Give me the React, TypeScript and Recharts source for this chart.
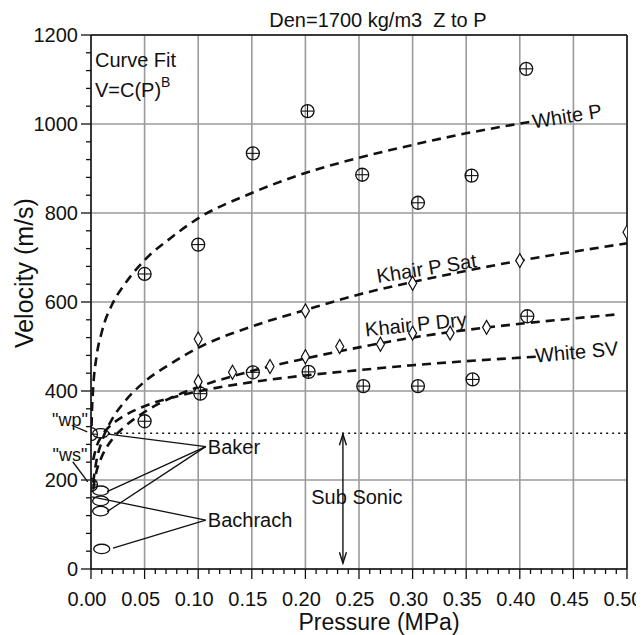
import React from 'react';
import {
  ComposedChart,
  Line,
  Scatter,
  XAxis,
  YAxis,
  CartesianGrid,
  ReferenceLine,
  ReferenceDot,
} from 'recharts';

// ---------- data ----------
// fitted curves V = C(P)^B
const whitePFit = [
  { p: 0.0005, v: 321 }, { p: 0.001, v: 362 }, { p: 0.002, v: 407 }, { p: 0.005, v: 475 },
  { p: 0.01, v: 532 }, { p: 0.02, v: 596 }, { p: 0.03, v: 635 }, { p: 0.05, v: 694 },
  { p: 0.075, v: 745 }, { p: 0.1, v: 788 }, { p: 0.15, v: 845 }, { p: 0.2, v: 890 },
  { p: 0.25, v: 924 }, { p: 0.3, v: 953 }, { p: 0.35, v: 979 }, { p: 0.415, v: 1007 },
];
const khairSatFit = [
  { p: 0.002, v: 194 }, { p: 0.005, v: 242 }, { p: 0.01, v: 286 }, { p: 0.02, v: 338 },
  { p: 0.03, v: 372 }, { p: 0.05, v: 421 }, { p: 0.075, v: 462 }, { p: 0.1, v: 497 },
  { p: 0.15, v: 545 }, { p: 0.2, v: 582 }, { p: 0.25, v: 617 }, { p: 0.3, v: 645 },
  { p: 0.35, v: 670 }, { p: 0.4, v: 693 }, { p: 0.45, v: 713 }, { p: 0.5, v: 732 },
];
const khairDryFit = [
  { p: 0.002, v: 180 }, { p: 0.005, v: 218 }, { p: 0.01, v: 252 }, { p: 0.02, v: 292 },
  { p: 0.03, v: 317 }, { p: 0.05, v: 353 }, { p: 0.075, v: 385 }, { p: 0.1, v: 409 },
  { p: 0.15, v: 445 }, { p: 0.2, v: 473 }, { p: 0.25, v: 498 }, { p: 0.3, v: 520 },
  { p: 0.35, v: 537 }, { p: 0.4, v: 551 }, { p: 0.45, v: 563 }, { p: 0.49, v: 572 },
];
const whiteSVFit = [
  { p: 0.002, v: 245 }, { p: 0.005, v: 274 }, { p: 0.01, v: 299 }, { p: 0.02, v: 326 },
  { p: 0.03, v: 343 }, { p: 0.05, v: 366 }, { p: 0.075, v: 385 }, { p: 0.1, v: 399 },
  { p: 0.15, v: 420 }, { p: 0.2, v: 435 }, { p: 0.25, v: 447 }, { p: 0.3, v: 458 },
  { p: 0.35, v: 467 }, { p: 0.415, v: 477 },
];

// measured points
const whitePPoints = [
  { p: 0.05, v: 663 }, { p: 0.1, v: 729 }, { p: 0.151, v: 934 }, { p: 0.202, v: 1029 },
  { p: 0.253, v: 886 }, { p: 0.305, v: 823 }, { p: 0.355, v: 884 }, { p: 0.406, v: 1124 },
];
const whiteSVPoints = [
  { p: 0.05, v: 332 }, { p: 0.102, v: 394 }, { p: 0.151, v: 442 }, { p: 0.203, v: 443 },
  { p: 0.254, v: 411 }, { p: 0.305, v: 411 }, { p: 0.356, v: 426 }, { p: 0.407, v: 568 },
];
const zeroPressurePoints = [{ p: 0, v: 303 }, { p: 0, v: 189 }];
const khairSatPoints = [
  { p: 0.1, v: 517 }, { p: 0.2, v: 580 }, { p: 0.3, v: 642 }, { p: 0.4, v: 693 }, { p: 0.5, v: 757 },
];
const khairDryPoints = [
  { p: 0.1, v: 421 }, { p: 0.132, v: 442 }, { p: 0.167, v: 455 }, { p: 0.2, v: 477 },
  { p: 0.232, v: 500 }, { p: 0.27, v: 505 }, { p: 0.3, v: 530 }, { p: 0.335, v: 530 },
  { p: 0.369, v: 543 },
];
const lowPressurePoints = [
  { p: 0.009, v: 305 }, { p: 0.009, v: 176 }, { p: 0.009, v: 153 }, { p: 0.009, v: 130 },
  { p: 0.01, v: 45 },
];
const subSonicLimit = 305;

// axis ticks
const xMajorTicks = [0, 0.05, 0.1, 0.15, 0.2, 0.25, 0.3, 0.35, 0.4, 0.45, 0.5];
const yMajorTicks = [0, 200, 400, 600, 800, 1000, 1200];
const xAllTicks = Array.from({ length: 51 }, (_, i) => i / 100);
const yAllTicks = Array.from({ length: 31 }, (_, i) => i * 40);

// annotations (data coordinates)
const curveLabels = [
  { text: 'White P', p: 0.444, v: 1018, angle: -9 },
  { text: 'Khair P Sat', p: 0.313, v: 676, angle: -9 },
  { text: 'Khair P Dry', p: 0.303, v: 550, angle: -6 },
  { text: 'White SV', p: 0.453, v: 488, angle: -5 },
];
const bakerAt = { p: 0.107, v: 275 };
const bachrachAt = { p: 0.107, v: 110 };
const bakerFrom = [
  { p: 0.016, v: 303 }, { p: 0.015, v: 174 }, { p: 0.015, v: 129 },
];
const bachrachFrom = [{ p: 0.001, v: 162 }, { p: 0.0205, v: 47 }];

const W = 636;
const H = 627;
const FONT = '"Liberation Sans", Arial, Helvetica, sans-serif';
const INK = '#111';

const XTick = (props: any) => {
  const { x, y, payload } = props;
  const v = payload.value as number;
  const major = Math.round(v * 100) % 5 === 0;
  return (
    <g>
      <line x1={x} x2={x} y1={y} y2={y + (major ? 10 : 5)} stroke={INK} strokeWidth={1.3} />
      {major && (
        <text x={x - 4} y={y + 37} textAnchor="middle" fontSize={20} fontFamily={FONT} fill={INK}>
          {v.toFixed(2)}
        </text>
      )}
    </g>
  );
};

const YTick = (props: any) => {
  const { x, y, payload } = props;
  const v = payload.value as number;
  const major = v % 200 === 0;
  return (
    <g>
      <line x1={x - (major ? 10 : 5)} x2={x} y1={y} y2={y} stroke={INK} strokeWidth={1.3} />
      {major && (
        <text x={x - 13} y={y + 7} textAnchor="end" fontSize={20} fontFamily={FONT} fill={INK}>
          {v}
        </text>
      )}
    </g>
  );
};

const CirclePlus = (props: any) => {
  const { cx, cy } = props;
  const r = 6.5;
  return (
    <g>
      <circle cx={cx} cy={cy} r={r} fill="none" stroke={INK} strokeWidth={1.3} />
      <line x1={cx - r} x2={cx + r} y1={cy} y2={cy} stroke={INK} strokeWidth={1.1} />
      <line x1={cx} x2={cx} y1={cy - r} y2={cy + r} stroke={INK} strokeWidth={1.1} />
    </g>
  );
};

const Diamond = (props: any) => {
  const { cx, cy } = props;
  return (
    <path
      d={`M${cx},${cy - 7} L${cx + 4},${cy} L${cx},${cy + 7} L${cx - 4},${cy} Z`}
      fill="#fff"
      stroke={INK}
      strokeWidth={1.2}
    />
  );
};

const Ellipse = (props: any) => {
  const { cx, cy } = props;
  return <ellipse cx={cx} cy={cy} rx={8} ry={4.7} fill="none" stroke={INK} strokeWidth={1.3} />;
};

const textShape = (text: string, opts: any = {}) => (p: any) => {
  const { cx, cy } = p;
  const { anchor = 'middle', size = 20, angle = 0, central = true } = opts;
  return (
    <text
      x={cx}
      y={cy}
      textAnchor={anchor}
      dominantBaseline={central ? 'central' : 'auto'}
      fontSize={size}
      fontFamily={FONT}
      fill={INK}
      style={{ whiteSpace: 'pre' }}
      transform={angle ? `rotate(${angle} ${cx} ${cy})` : undefined}
    >
      {text}
    </text>
  );
};

const arrowShape = (p: any) => {
  const { x1, y1, x2, y2 } = p;
  const top = Math.min(y1, y2);
  const bot = Math.max(y1, y2);
  return (
    <g stroke={INK} strokeWidth={1.4} fill="none">
      <line x1={x1} x2={x2} y1={top} y2={bot} />
      <polyline points={`${x1 - 3.5},${top + 11} ${x1},${top} ${x1 + 3.5},${top + 11}`} />
      <polyline points={`${x1 - 3.5},${bot - 11} ${x1},${bot} ${x1 + 3.5},${bot - 11}`} />
    </g>
  );
};

const fitLine = (data: any[], key: string) => (
  <Line
    key={key}
    data={data}
    dataKey="v"
    type="monotone"
    stroke={INK}
    strokeWidth={2.6}
    strokeDasharray="9 6"
    dot={false}
    activeDot={false}
    isAnimationActive={false}
  />
);

export default function App() {
  return (
    <div style={{ width: W, height: H }}>
      <style>{'.recharts-surface{overflow:visible}'}</style>
      <ComposedChart width={W} height={H} margin={{ top: 27, right: 17, bottom: 0, left: 0 }}>
        <CartesianGrid
          horizontalValues={yMajorTicks}
          verticalValues={xMajorTicks}
          stroke="#9a9a9a"
          strokeWidth={1.6}
        />
        <XAxis
          dataKey="p"
          type="number"
          domain={[0, 0.5]}
          ticks={xAllTicks}
          interval={0}
          tickSize={0}
          tickMargin={0}
          tick={<XTick />}
          height={66}
          axisLine={{ stroke: INK, strokeWidth: 1.5 }}
          allowDataOverflow
        />
        <YAxis
          type="number"
          domain={[0, 1200]}
          ticks={yAllTicks}
          interval={0}
          tickSize={0}
          tickMargin={0}
          tick={<YTick />}
          width={83}
          axisLine={{ stroke: INK, strokeWidth: 1.5 }}
          allowDataOverflow
        />
        <ReferenceLine y={1200} stroke={INK} strokeWidth={1.5} />
        <ReferenceLine x={0.5} stroke={INK} strokeWidth={1.5} />

        {fitLine(whitePFit, 'wpf')}
        {fitLine(khairSatFit, 'ksf')}
        {fitLine(khairDryFit, 'kdf')}
        {fitLine(whiteSVFit, 'wsf')}

        <ReferenceLine
          segment={[{ x: 0.016, y: subSonicLimit }, { x: 0.5, y: subSonicLimit }]}
          stroke={INK}
          strokeWidth={1.5}
          strokeDasharray="2 4"
        />
        <ReferenceLine
          segment={[{ x: 0.235, y: 303 }, { x: 0.235, y: 13 }]}
          shape={arrowShape}
        />

        {bakerFrom.map((f, i) => (
          <ReferenceLine
            key={'bk' + i}
            segment={[{ x: f.p, y: f.v }, { x: bakerAt.p, y: bakerAt.v }]}
            stroke={INK}
            strokeWidth={1.3}
            ifOverflow="visible"
          />
        ))}
        {bachrachFrom.map((f, i) => (
          <ReferenceLine
            key={'bc' + i}
            segment={[{ x: f.p, y: f.v }, { x: bachrachAt.p, y: bachrachAt.v }]}
            stroke={INK}
            strokeWidth={1.3}
            ifOverflow="visible"
          />
        ))}
        <ReferenceLine
          segment={[{ x: -0.018, y: 323 }, { x: -0.0035, y: 308 }]}
          stroke={INK}
          strokeWidth={1.3}
          ifOverflow="visible"
        />
        <ReferenceLine
          segment={[{ x: -0.017, y: 241 }, { x: -0.003, y: 196 }]}
          stroke={INK}
          strokeWidth={1.3}
          ifOverflow="visible"
        />

        <Scatter data={whitePPoints} dataKey="v" shape={CirclePlus} isAnimationActive={false} />
        <Scatter data={whiteSVPoints} dataKey="v" shape={CirclePlus} isAnimationActive={false} />
        <Scatter data={zeroPressurePoints} dataKey="v" shape={CirclePlus} isAnimationActive={false} />
        <Scatter data={khairSatPoints} dataKey="v" shape={Diamond} isAnimationActive={false} />
        <Scatter data={khairDryPoints} dataKey="v" shape={Diamond} isAnimationActive={false} />
        <Scatter data={lowPressurePoints} dataKey="v" shape={Ellipse} isAnimationActive={false} />

        {curveLabels.map((c) => (
          <ReferenceDot
            key={c.text}
            x={c.p}
            y={c.v}
            r={0}
            ifOverflow="visible"
            shape={textShape(c.text, { angle: c.angle })}
          />
        ))}
        <ReferenceDot x={0.109} y={bakerAt.v} r={0} ifOverflow="visible" shape={textShape('Baker', { anchor: 'start' })} />
        <ReferenceDot x={0.109} y={bachrachAt.v} r={0} ifOverflow="visible" shape={textShape('Bachrach', { anchor: 'start' })} />
        <ReferenceDot x={0.248} y={162} r={0} ifOverflow="visible" shape={textShape('Sub Sonic')} />
        <ReferenceDot x={-0.0196} y={335} r={0} ifOverflow="visible" shape={textShape('"wp"', { size: 18 })} />
        <ReferenceDot x={-0.0196} y={256} r={0} ifOverflow="visible" shape={textShape('"ws"', { size: 18 })} />
        <ReferenceDot x={0.0037} y={1128} r={0} ifOverflow="visible" shape={textShape('Curve Fit', { anchor: 'start', central: false })} />
        <ReferenceDot
          x={0.0037}
          y={1061}
          r={0}
          ifOverflow="visible"
          shape={(p: any) => (
            <text x={p.cx} y={p.cy} fontSize={20} fontFamily={FONT} fill={INK}>
              V=C(P)
              <tspan dy={-10} fontSize={14}>B</tspan>
            </text>
          )}
        />
        <ReferenceDot x={0.2677} y={1218} r={0} ifOverflow="visible" shape={textShape('Den=1700 kg/m3  Z to P', { central: false })} />
        <ReferenceDot x={0.2687} y={-136} r={0} ifOverflow="visible" shape={textShape('Pressure (MPa)', { size: 23, central: false })} />
        <ReferenceDot x={-0.0625} y={665} r={0} ifOverflow="visible" shape={textShape('Velocity (m/s)', { size: 25, angle: -90 })} />
      </ComposedChart>
    </div>
  );
}
